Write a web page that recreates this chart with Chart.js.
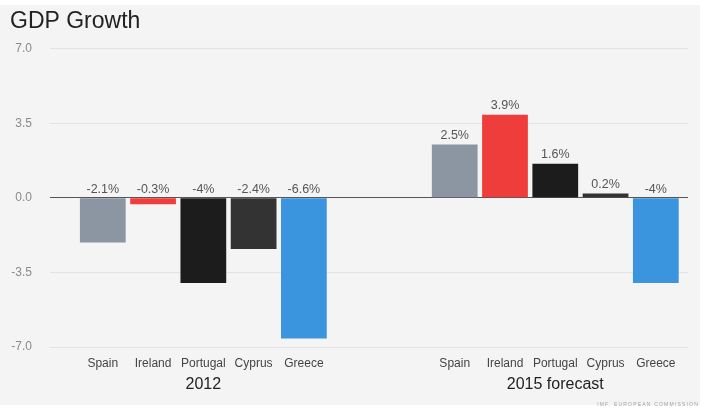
<!DOCTYPE html>
<html>
<head>
<meta charset="utf-8">
<script src="https://cdn.jsdelivr.net/npm/chart.js@4.4.1/dist/chart.umd.min.js"></script>
<style>
  html, body { margin: 0; padding: 0; background: #ffffff; }
  #painel {
    position: absolute; left: 0; top: 5px; width: 700px; height: 400px;
    background: #f4f4f4;
  }
  #fonte {
    position: absolute; right: 8px; top: 401px;
    font: 5px "Liberation Sans", sans-serif; letter-spacing: 1.2px;
    color: #a0a0a0; text-transform: uppercase;
  }
</style>
</head>
<body>
<div id="painel"><canvas id="grafico" width="700" height="400"></canvas></div>
<div id="fonte">IMF, European Commission</div>
<script>
// dados
const paises = ["Spain", "Ireland", "Portugal", "Cyprus", "Greece"];
const grupos = ["2012", "2015 forecast"];
const crescimento2012 = [-2.1, -0.3, -4.0, -2.4, -6.6];
const crescimento2015 = [2.5, 3.9, 1.6, 0.2, -4.0];
const rotulos2012 = ["-2.1%", "-0.3%", "-4%", "-2.4%", "-6.6%"];
const rotulos2015 = ["2.5%", "3.9%", "1.6%", "0.2%", "-4%"];
const ticksY = [-7.0, -3.5, 0.0, 3.5, 7.0];

const coresPaises = ["#8b96a2", "#ef3d3c", "#1c1c1c", "#333333", "#3a94de"];
const FONTE = '"Liberation Sans", Arial, sans-serif';

// cada grupo ocupa 5 posicoes, com 2 posicoes vazias entre eles
const passoGrupo = paises.length + 2;
function posicao(grupo, i) {
  return 1 + grupo * passoGrupo + i;
}

const series = [crescimento2012, crescimento2015];
const rotulos = [rotulos2012, rotulos2015];

const pontos = [];
const textos = [];
const cores = [];
series.forEach((valores, g) => {
  valores.forEach((v, i) => {
    pontos.push({ x: posicao(g, i), y: v });
    textos.push(rotulos[g][i]);
    cores.push(coresPaises[i]);
  });
});

const ticksPaises = [];
const nomePorPosicao = {};
grupos.forEach((_, g) => {
  paises.forEach((p, i) => {
    ticksPaises.push(posicao(g, i));
    nomePorPosicao[posicao(g, i)] = p;
  });
});
const centrosGrupos = grupos.map((_, g) => (posicao(g, 0) + posicao(g, paises.length - 1)) / 2);
const nomeGrupoPorPosicao = {};
centrosGrupos.forEach((c, g) => { nomeGrupoPorPosicao[c] = grupos[g]; });

const minX = -0.05;
const maxX = 12.64;

const pluginRotulos = {
  id: "rotulosValores",
  afterDatasetsDraw(chart) {
    const ctx = chart.ctx;
    const meta = chart.getDatasetMeta(0);
    ctx.save();
    ctx.font = "12.5px " + FONTE;
    ctx.fillStyle = "#555555";
    ctx.textAlign = "center";
    ctx.textBaseline = "bottom";
    meta.data.forEach((barra, i) => {
      const topo = Math.min(barra.y, barra.base);
      ctx.fillText(textos[i], barra.x, topo - 3);
    });
    ctx.restore();
  }
};

new Chart(document.getElementById("grafico"), {
  type: "bar",
  data: {
    datasets: [{
      data: pontos,
      xAxisID: "x",
      backgroundColor: cores,
      borderWidth: 0,
      barPercentage: 0.91,
      categoryPercentage: 1.0,
    }]
  },
  options: {
    responsive: false,
    animation: false,
    layout: { padding: { left: 10, right: 12, top: 0, bottom: 10 } },
    plugins: {
      legend: { display: false },
      tooltip: { enabled: false },
      title: {
        display: true,
        text: "GDP Growth",
        align: "start",
        color: "#222222",
        font: { family: FONTE, size: 23, weight: "normal" },
        padding: { top: 3, bottom: 13 }
      }
    },
    scales: {
      x: {
        type: "linear",
        position: "bottom",
        offset: false,
        min: minX,
        max: maxX,
        weight: 0,
        afterBuildTicks: axis => { axis.ticks = ticksPaises.map(v => ({ value: v })); },
        afterFit: axis => { axis.height = 24; },
        grid: { display: false, drawTicks: false, offset: false },
        border: { display: false },
        ticks: {
          autoSkip: false,
          maxRotation: 0,
          padding: 9,
          color: "#444444",
          font: { family: FONTE, size: 12 },
          callback: v => nomePorPosicao[v] || ""
        }
      },
      grupo: {
        type: "linear",
        axis: "x",
        position: "bottom",
        offset: false,
        min: minX,
        max: maxX,
        weight: 1,
        afterBuildTicks: axis => { axis.ticks = centrosGrupos.map(v => ({ value: v })); },
        afterFit: axis => { axis.height = 24; },
        grid: { display: false, drawTicks: false, offset: false },
        border: { display: false },
        ticks: {
          autoSkip: false,
          maxRotation: 0,
          padding: 4,
          color: "#222222",
          font: { family: FONTE, size: 16 },
          callback: v => nomeGrupoPorPosicao[v] || ""
        }
      },
      y: {
        min: -7,
        max: 7,
        afterBuildTicks: axis => { axis.ticks = ticksY.map(v => ({ value: v })); },
        afterFit: axis => { axis.width = 40; },
        border: { display: false },
        grid: {
          drawTicks: false,
          color: c => (c.tick && c.tick.value === 0) ? "#555555" : "#e3e3e3",
          lineWidth: 1
        },
        ticks: {
          padding: 18,
          color: "#8a8a8a",
          font: { family: FONTE, size: 12 },
          callback: v => Number(v).toFixed(1)
        }
      }
    }
  },
  plugins: [pluginRotulos]
});
</script>
</body>
</html>
